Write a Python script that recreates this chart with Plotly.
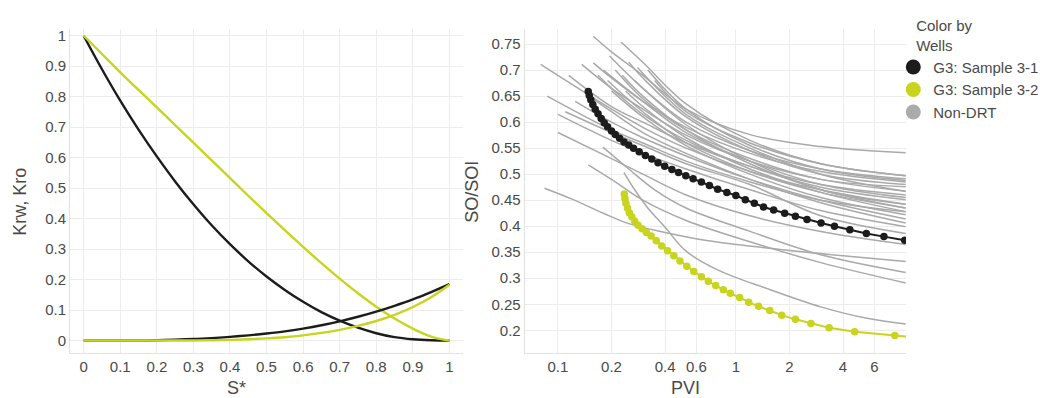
import plotly.graph_objects as go
from plotly.subplots import make_subplots

# ---------------- Left panel: relative permeability ----------------
s_star = [0, 0.05, 0.1, 0.15, 0.2, 0.25, 0.3, 0.35, 0.4, 0.45, 0.5,
          0.55, 0.6, 0.65, 0.7, 0.75, 0.8, 0.85, 0.9, 0.95, 1.0]
kro_31 = [1.0, 0.89, 0.787, 0.692, 0.604, 0.522, 0.447, 0.378, 0.316, 0.26, 0.21,
          0.166, 0.127, 0.093, 0.065, 0.042, 0.024, 0.011, 0.004, 0.0008, 0.0]
kro_32 = [1.0, 0.94, 0.88, 0.822, 0.765, 0.707, 0.649, 0.591, 0.533, 0.475, 0.418,
          0.362, 0.307, 0.254, 0.203, 0.155, 0.111, 0.072, 0.039, 0.013, 0.0]
krw_31 = [0.0, 0.0, 0.0, 0.0, 0.001, 0.003, 0.005, 0.008, 0.012, 0.017, 0.023,
          0.03, 0.039, 0.05, 0.063, 0.078, 0.095, 0.114, 0.135, 0.159, 0.185]
krw_32 = [0.0, 0.0, 0.0, 0.0, 0.0, 0.0, 0.0, 0.001, 0.002, 0.004, 0.007,
          0.011, 0.017, 0.025, 0.035, 0.048, 0.064, 0.084, 0.11, 0.142, 0.183]

# ---------------- Right panel: SO/SOI vs PVI ----------------
pvi_31 = [0.148, 0.15, 0.153, 0.157, 0.162, 0.168, 0.175, 0.182, 0.19, 0.2, 0.21,
          0.222, 0.235, 0.25, 0.266, 0.286, 0.31, 0.337, 0.365, 0.398, 0.437,
          0.476, 0.523, 0.575, 0.64, 0.71, 0.79, 0.89, 1.0, 1.13, 1.27, 1.43,
          1.63, 1.88, 2.16, 2.51, 3.01, 3.58, 4.37, 5.41, 6.79, 8.89]
so_31 = [0.659, 0.651, 0.643, 0.634, 0.625, 0.616, 0.607, 0.599, 0.591, 0.583, 0.576,
         0.569, 0.562, 0.556, 0.550, 0.543, 0.536, 0.529, 0.522, 0.515, 0.509,
         0.503, 0.497, 0.491, 0.485, 0.478, 0.471, 0.465, 0.459, 0.451, 0.444, 0.437,
         0.431, 0.425, 0.419, 0.413, 0.406, 0.400, 0.393, 0.386, 0.380, 0.373]

pvi_32 = [0.236, 0.238, 0.241, 0.246, 0.252, 0.26, 0.27, 0.282, 0.297, 0.314,
          0.334, 0.357, 0.383, 0.413, 0.448, 0.485, 0.53, 0.58, 0.64, 0.70,
          0.77, 0.85, 0.93, 1.05, 1.18, 1.34, 1.55, 1.81, 2.16, 2.64, 3.34,
          4.65, 7.82, 9.6]
so_32 = [0.462, 0.453, 0.444, 0.435, 0.426, 0.418, 0.410, 0.402, 0.395, 0.388,
         0.381, 0.372, 0.362, 0.353, 0.343, 0.333, 0.323, 0.313, 0.303, 0.294,
         0.286, 0.278, 0.271, 0.263, 0.254, 0.246, 0.238, 0.229, 0.221, 0.213, 0.205,
         0.197, 0.190, 0.187]

# Non-DRT wells: one list of PVI values and one of SO/SOI values per well
gray_pvi = [
    [0.158, 0.2, 0.3, 0.525, 1.2, 3, 9],
    [0.226, 0.3, 0.525, 1.2, 3, 9],
    [0.080, 0.2, 0.3, 0.525, 1.2, 3, 9],
    [0.136, 0.2, 0.3, 0.525, 1.2, 3, 9],
    [0.158, 0.2, 0.3, 0.525, 1.2, 3, 9],
    [0.195, 0.3, 0.525, 1.2, 3, 9],
    [0.115, 0.2, 0.3, 0.525, 1.2, 3, 9],
    [0.087, 0.2, 0.3, 0.525, 1.2, 3, 9],
    [0.168, 0.2, 0.3, 0.525, 1.2, 3, 9],
    [0.21, 0.3, 0.525, 1.2, 3, 9],
    [0.25, 0.3, 0.525, 1.2, 3, 9],
    [0.19, 0.3, 0.525, 1.2, 3, 9],
    [0.28, 0.525, 1.2, 3, 9],
    [0.24, 0.3, 0.525, 1.2, 3, 9],
    [0.125, 0.2, 0.3, 0.525, 1.2, 3, 9],
    [0.10, 0.2, 0.3, 0.525, 1.2, 3, 9],
    [0.20, 0.3, 0.525, 1.2, 3, 9],
    [0.32, 0.525, 1.2, 3, 9],
    [0.15, 0.2, 0.3, 0.525, 1.2, 3, 9],
    [0.23, 0.3, 0.525, 1.2, 3, 9],
    [0.27, 0.525, 1.2, 3, 9],
    [0.11, 0.2, 0.3, 0.525, 1.2, 3, 9],
    [0.35, 0.525, 1.2, 3, 9],
    [0.18, 0.3, 0.525, 1.2, 3, 9],
    [0.10, 0.2, 0.3, 0.525, 1.2, 3, 9],
    [0.084, 0.12, 0.18, 0.25, 0.4, 0.7, 1.5, 4.0, 9],
    [0.148, 0.2, 0.3, 0.525, 1.2, 3, 9],
    [0.179, 0.25, 0.35, 0.525, 1.2, 3, 9],
    [0.235, 0.27, 0.32, 0.4, 0.525, 0.8, 1.5, 3.0, 5.45, 9],
]
gray_so = [
    [0.765, 0.735, 0.690, 0.625, 0.576, 0.553, 0.541],
    [0.754, 0.715, 0.635, 0.565, 0.520, 0.497],
    [0.711, 0.625, 0.590, 0.550, 0.505, 0.470, 0.442],
    [0.711, 0.665, 0.625, 0.575, 0.525, 0.490, 0.467],
    [0.714, 0.685, 0.640, 0.590, 0.540, 0.505, 0.485],
    [0.727, 0.665, 0.600, 0.545, 0.510, 0.491],
    [0.690, 0.630, 0.600, 0.560, 0.515, 0.480, 0.460],
    [0.650, 0.585, 0.560, 0.525, 0.485, 0.450, 0.428],
    [0.690, 0.665, 0.615, 0.565, 0.515, 0.475, 0.451],
    [0.700, 0.645, 0.585, 0.530, 0.490, 0.476],
    [0.715, 0.685, 0.610, 0.545, 0.500, 0.480],
    [0.680, 0.620, 0.560, 0.505, 0.465, 0.435],
    [0.705, 0.615, 0.550, 0.500, 0.467],
    [0.660, 0.630, 0.570, 0.510, 0.465, 0.428],
    [0.640, 0.600, 0.570, 0.535, 0.490, 0.450, 0.414],
    [0.615, 0.565, 0.540, 0.510, 0.470, 0.430, 0.399],
    [0.660, 0.610, 0.555, 0.500, 0.455, 0.422],
    [0.700, 0.625, 0.555, 0.510, 0.488],
    [0.650, 0.620, 0.580, 0.540, 0.490, 0.445, 0.406],
    [0.690, 0.650, 0.585, 0.520, 0.470, 0.435],
    [0.680, 0.595, 0.525, 0.470, 0.442],
    [0.620, 0.580, 0.555, 0.520, 0.480, 0.420, 0.386],
    [0.680, 0.620, 0.560, 0.520, 0.497],
    [0.700, 0.640, 0.580, 0.525, 0.480, 0.455],
    [0.580, 0.530, 0.500, 0.460, 0.420, 0.390, 0.365],
    [0.473, 0.452, 0.425, 0.405, 0.388, 0.372, 0.358, 0.343, 0.332],
    [0.518, 0.490, 0.450, 0.411, 0.370, 0.330, 0.291],
    [0.552, 0.510, 0.470, 0.435, 0.390, 0.345, 0.311],
    [0.503, 0.470, 0.435, 0.398, 0.352, 0.315, 0.280, 0.245, 0.223, 0.212],
]

left_xticks = [0, 0.1, 0.2, 0.3, 0.4, 0.5, 0.6, 0.7, 0.8, 0.9, 1]
left_yticks = [0, 0.1, 0.2, 0.3, 0.4, 0.5, 0.6, 0.7, 0.8, 0.9, 1]
right_xticks = [0.1, 0.2, 0.4, 0.6, 1, 2, 4, 6]
right_xticktext = ["0.1", "0.2", "0.4", "0.6", "1", "2", "4", "6"]
right_yticks = [0.2, 0.25, 0.3, 0.35, 0.4, 0.45, 0.5, 0.55, 0.6, 0.65, 0.7, 0.75]

BLACK = "#1c1c1c"
YELLOW = "#c8d41e"
GRAY = "#a9a9a9"
FONT = "Liberation Sans, Arial, sans-serif"
TXT = "#4a4a4a"

W, H = 1056, 398
ML, MR, MT, MB = 70, 131, 15, 45
pw = W - ML - MR
ph = H - MT - MB


def px_x(p):
    return (p - ML) / pw


def px_y(p):
    return (H - MB - p) / ph


fig = make_subplots(rows=1, cols=2, horizontal_spacing=0)

# left panel
for y, c in [(kro_31, BLACK), (kro_32, YELLOW), (krw_31, BLACK), (krw_32, YELLOW)]:
    fig.add_trace(go.Scatter(x=s_star, y=y, mode="lines", line=dict(color=c, width=2.4, shape="spline"),
                             showlegend=False, hoverinfo="skip"), row=1, col=1)

# right panel
for xs, ys in zip(gray_pvi, gray_so):
    fig.add_trace(go.Scatter(x=xs, y=ys, mode="lines", line=dict(color=GRAY, width=1.5, shape="spline"),
                             showlegend=False, hoverinfo="skip"), row=1, col=2)
fig.add_trace(go.Scatter(x=pvi_31, y=so_31, mode="lines+markers", line=dict(color=BLACK, width=2),
                         marker=dict(color=BLACK, size=7.5), showlegend=False), row=1, col=2)
fig.add_trace(go.Scatter(x=pvi_32, y=so_32, mode="lines+markers", line=dict(color=YELLOW, width=2),
                         marker=dict(color=YELLOW, size=7.5), showlegend=False), row=1, col=2)

# legend entries
for name, c in [("G3: Sample 3-1", BLACK), ("G3: Sample 3-2", YELLOW), ("Non-DRT", "#ababab")]:
    fig.add_trace(go.Scatter(x=[None], y=[None], mode="markers", name=name,
                             marker=dict(color=c, size=15)), row=1, col=2)

fig.update_xaxes(domain=[0, px_x(472)], row=1, col=1)
fig.update_xaxes(domain=[px_x(535), 1], row=1, col=2)

axis_common = dict(showgrid=True, gridcolor="#ececec", gridwidth=1, zeroline=False,
                   showline=True, linecolor="#e2e2e2", linewidth=1, ticks="",
                   tickfont=dict(family=FONT, size=15, color=TXT))

fig.update_xaxes(range=[-0.0374, 1.0374], tickvals=left_xticks, ticktext=[f"{v:g}" for v in left_xticks],
                 row=1, col=1, **axis_common)
fig.update_yaxes(range=[-0.0409, 1.022], tickvals=left_yticks, ticktext=[f"{v:g}" for v in left_yticks],
                 row=1, col=1, **axis_common)
fig.update_xaxes(type="log", range=[-1.187, 0.956], tickvals=right_xticks, ticktext=right_xticktext,
                 row=1, col=2, **axis_common)
fig.update_yaxes(range=[0.1563, 0.779], tickvals=right_yticks, ticktext=[f"{v:g}" for v in right_yticks],
                 row=1, col=2, **axis_common)

title_font = dict(family=FONT, size=18, color=TXT)
annotations = [
    dict(text="S*", x=px_x(240), y=px_y(389), xref="paper", yref="paper",
         xanchor="center", yanchor="middle", showarrow=False, font=title_font),
    dict(text="PVI", x=px_x(699), y=px_y(389), xref="paper", yref="paper",
         xanchor="center", yanchor="middle", showarrow=False, font=title_font),
    dict(text="Krw, Kro", x=px_x(18), y=px_y(195), xref="paper", yref="paper", textangle=-90,
         xanchor="center", yanchor="middle", showarrow=False, font=title_font),
    dict(text="SO/SOI", x=px_x(481), y=px_y(185), xref="paper", yref="paper", textangle=-90,
         xanchor="center", yanchor="middle", showarrow=False, font=title_font),
]

fig.update_layout(
    width=W, height=H, margin=dict(l=ML, r=MR, t=MT, b=MB),
    paper_bgcolor="white", plot_bgcolor="white",
    font=dict(family=FONT, color=TXT),
    annotations=annotations,
    legend=dict(x=px_x(912), xanchor="left", y=px_y(-3), yanchor="top",
                bgcolor="rgba(0,0,0,0)", font=dict(family=FONT, size=15, color=TXT),
                title=dict(text="\u00a0\u00a0\u00a0\u00a0\u00a0Color by<br>\u00a0\u00a0\u00a0\u00a0\u00a0Wells",
                           font=dict(family=FONT, size=15, color=TXT), side="top"),
                itemwidth=30, tracegroupgap=0),
)

fig.write_html("out.html")
